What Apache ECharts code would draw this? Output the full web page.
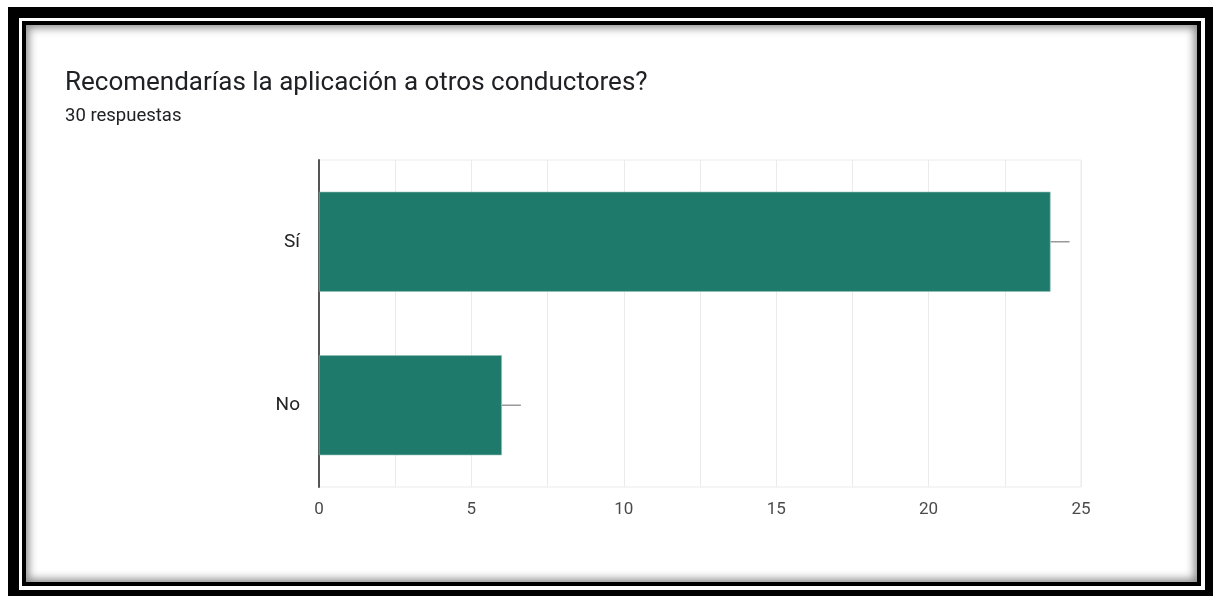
<!DOCTYPE html>
<html>
<head>
<meta charset="utf-8">
<script src="https://cdn.jsdelivr.net/npm/echarts@6/dist/echarts.min.js"></script>
<style>
  html, body { margin: 0; padding: 0; width: 1213px; height: 596px; background: #fff; overflow: hidden; }
  #f1 { position: absolute; left: 8px; top: 7px; width: 1205px; height: 589px; background: #000; }
  #f2 { position: absolute; left: 19px; top: 18px; width: 1186px; height: 572px; background: #fff; }
  #f3 { position: absolute; left: 22px; top: 21px; width: 1171px; height: 557px; border: 4px solid #000; background: #fff;
        box-shadow: inset 0 0 9px 3px rgba(0,0,0,0.45); }
  #chart { position: absolute; left: 0; top: 0; width: 1213px; height: 596px; }
</style>
</head>
<body>
<div id="f1"></div><div id="f2"></div><div id="f3"></div>
<div id="chart"></div>
<script>
const titleText = 'Recomendarías la aplicación a otros conductores?';
const subtitleText = '30 respuestas';
const categories = ['Sí', 'No'];
const values = [24, 6];
const xTicks = { min: 0, max: 25, interval: 5 };

const chart = echarts.init(document.getElementById('chart'), null, { renderer: 'canvas' });
const FONT = 'Roboto, "Noto Sans", sans-serif';

chart.setOption({
  backgroundColor: 'transparent',
  animation: false,
  title: [
    { text: titleText, left: 60, top: 65, textStyle: { fontFamily: FONT, fontSize: 26, fontWeight: 'normal', color: '#202124' } },
    { text: subtitleText, left: 60, top: 102, textStyle: { fontFamily: FONT, fontSize: 18.5, fontWeight: 'normal', color: '#202124' } }
  ],
  grid: { left: 319, right: 132, top: 160, bottom: 109, containLabel: false, outerBoundsMode: 'none',
          show: true, borderColor: '#ebebeb', borderWidth: 1 },
  xAxis: {
    type: 'value', min: xTicks.min, max: xTicks.max, interval: xTicks.interval,
    axisLine: { show: false }, axisTick: { show: false },
    axisLabel: { color: '#4a4a4a', fontSize: 17, fontFamily: FONT, margin: 14 },
    splitLine: { show: true, lineStyle: { color: '#ebebeb', width: 1 } },
    minorTick: { show: false, splitNumber: 2 },
    minorSplitLine: { show: true, lineStyle: { color: '#ebebeb', width: 1 } }
  },
  yAxis: {
    type: 'category', data: categories, inverse: true,
    axisLine: { show: true, lineStyle: { color: '#555', width: 2 } },
    axisTick: { show: false },
    axisLabel: { color: '#222', fontSize: 19, fontFamily: FONT, margin: 19 },
    splitLine: { show: false }
  },
  series: [
    {
      type: 'bar', data: values, barWidth: 100,
      itemStyle: { color: '#1e7b6b', borderColor: '#8fc0b5', borderWidth: 0.6 },
      z: 2
    },
    {
      type: 'custom',
      data: values.map((v, i) => [v, i]),
      renderItem: function (params, api) {
        const p = api.coord([api.value(0), api.value(1)]);
        return {
          type: 'line',
          shape: { x1: p[0], y1: p[1], x2: p[0] + 19, y2: p[1] },
          style: { stroke: '#999', lineWidth: 1.5 }
        };
      },
      z: 3, silent: true
    }
  ]
});
</script>
</body>
</html>
